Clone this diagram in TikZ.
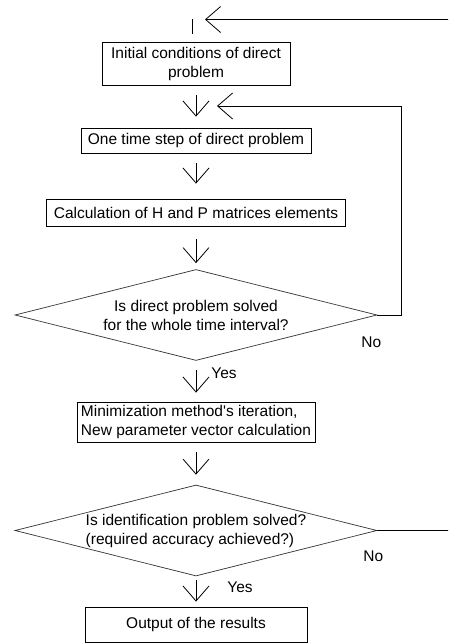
\documentclass[tikz,border=0pt]{standalone}
\usepackage{fontspec}
\setmainfont{Liberation Sans}
\usepackage{tikz}
\usetikzlibrary{positioning,shapes.geometric,arrows.meta}

\tikzset{
	box/.style={rectangle, draw, line width=0.8pt, inner sep=2pt},
	decision/.style={diamond, draw=black!80, line width=0.7pt, inner sep=0pt, aspect=4, minimum width=362pt, minimum height=91pt},
	flow/.style={->, line width=0.8pt},
	answer/.style={inner sep=0pt}
}

\begin{document}
\begin{tikzpicture}[x=1pt, y=-1pt, >={Straight Barb[length=15pt,width=26pt]},
		every node/.style={font=\fontsize{15.5}{19}\selectfont}]
		\path[use as bounding box, clip] (0,0) rectangle (448,643);

		\node (init) [box, align=center, minimum width=188pt, minimum height=43pt] at (196,63.5) {Initial conditions of direct\\problem};
		\node (step) [box, below of=init, node distance=77pt, minimum width=230pt, minimum height=25pt] {One time step of direct problem};
		\node (calc) [box, below of=step, node distance=72pt, minimum width=299pt, minimum height=27pt] {Calculation of H and P matrices elements};
		\node (solved) [decision, align=center, below of=calc, node distance=102.5pt] {Is direct problem solved\\for the whole time interval?};
		\node (iter) [box, align=left, below of=solved, node distance=107pt, minimum width=238pt, minimum height=40pt] {Minimization method\textquotesingle s iteration,\\New parameter vector calculation};
		\node (ident) [decision, align=left, below of=iter, node distance=108.5pt] {Is identification problem solved?\\(required accuracy achieved?)};
		\node (result) [box, below of=ident, node distance=94pt, minimum width=222pt, minimum height=35pt] {Output of the results};

		\coordinate (start) at (192,19);
		\coordinate (back1) at (217,106);
		\coordinate (back2) at (205,19.5);

		% main line
		\draw[line width=0.8pt] (start) -- (start |- init.north) [shorten >=8pt];
		\draw[flow, shorten <=10pt, shorten >=11pt] (init) -- (step);
		\draw[flow, shorten <=10pt, shorten >=15pt] (step) -- (calc);
		\draw[flow, shorten <=13pt, shorten >=6pt] (calc) -- (solved);
		\draw[flow, shorten <=9pt, shorten >=9pt] (solved) -- node[answer, pos=0.3, right=15pt] {Yes} (iter);
		\draw[flow, shorten <=10pt, shorten >=10pt] (iter) -- (ident);
		\draw[flow, shorten <=4pt, shorten >=5pt] (ident) -- node[answer, pos=0.35, right=31pt] {Yes} (result);

		% loops back
		\draw[flow] (solved.east) -- node[answer, pos=0, below=21pt, xshift=-6pt] {No} ++(24,0) |- (back1);
		\draw[flow] (ident.east) -- node[answer, pos=0, below=20pt, xshift=-4pt] {No} ++(90,0) |- (back2);

	\end{tikzpicture}
\end{document}
